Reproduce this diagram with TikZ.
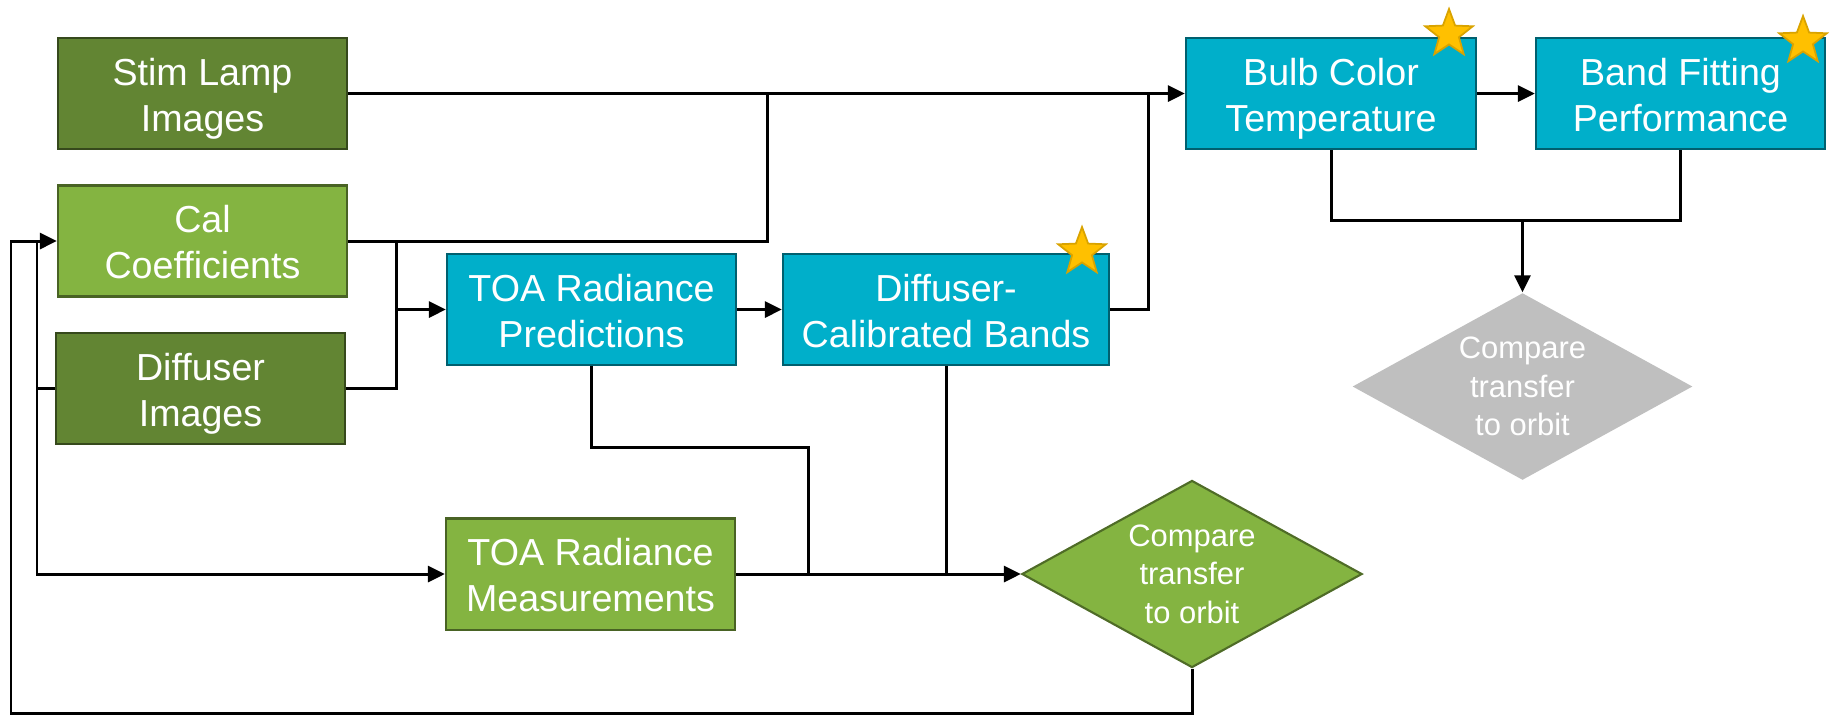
\documentclass[tikz,border=0pt]{standalone}
\usepackage{fontspec}
\setmainfont{Liberation Sans}
\usetikzlibrary{arrows.meta,shapes.geometric}

\definecolor{verdescuro}{RGB}{98,133,51}
\definecolor{verdechiaro}{RGB}{132,180,65}
\definecolor{ciano}{RGB}{0,175,202}
\definecolor{grigio}{RGB}{191,191,191}
\definecolor{oro}{RGB}{255,192,0}

\tikzset{
  blocco/.style={rectangle, fill=#1, draw=#1!55!black, line width=0.6pt,
    text=white, align=center, inner sep=0pt,
    minimum width=2.89cm, minimum height=1.11cm,
    text height=24.4pt, text depth=3pt,
    font=\fontsize{10.7}{13.1}\selectfont},
  rombo/.style={diamond, fill=#1, aspect=1.82, inner sep=0pt,
    minimum width=3.4cm, minimum height=1.87cm, text=white, align=center,
    font=\fontsize{8.8}{10.9}\selectfont},
  stella/.style={star, star points=5, star point ratio=2.4, fill=oro,
    draw=oro!85!black, line width=0.5pt, minimum size=0.5cm, inner sep=0pt},
  linea/.style={line width=0.85pt},
  freccia/.style={linea, -{Triangle[length=0.17cm,width=0.16cm]}}
}

\begin{document}
\begin{tikzpicture}[x=0.01cm,y=-0.01cm]
  \useasboundingbox (0,0) rectangle (1837,717);
  %blocchi
  \node[blocco=verdescuro] (stim) at (202.5,93.5) {Stim Lamp\\Images};
  \node[blocco=verdechiaro] (cal) at (202.5,241) {Cal\\Coefficients};
  \node[blocco=verdescuro] (diffimg) at (200.5,388.5) {Diffuser\\Images};
  \node[blocco=ciano] (pred) at (591.5,309.5) {TOA Radiance\\Predictions};
  \node[blocco=ciano, minimum width=3.26cm] (dcal) at (946,309.5) {Diffuser-\\Calibrated Bands};
  \node[blocco=verdechiaro] (meas) at (590.5,574) {TOA Radiance\\Measurements};
  \node[blocco=ciano, minimum width=2.9cm] (bulb) at (1331,93.5) {Bulb Color\\Temperature};
  \node[blocco=ciano] (band) at (1680.5,93.5) {Band Fitting\\Performance};
  \node[rombo=verdechiaro, draw=verdechiaro!60!black, line width=0.6pt] (cmpa) at (1192,574) {Compare\\transfer\\to orbit};
  \node[rombo=grigio] (cmpb) at (1522.5,386.5) {Compare\\transfer\\to orbit};
  %stelle
  \node[stella] (sa) at (1082,252) {};
  \node[stella] (sb) at (1449,34) {};
  \node[stella] (sc) at (1803,41) {};
  %punti
  \coordinate (ja) at (767,93.5);
  \coordinate (jb) at (396,309.5);
  \coordinate (jc) at (1148,93.5);
  \coordinate (jd) at (1522.5,220);
  \coordinate (je) at (808,447);
  \coordinate (jf) at (808,574);
  \coordinate (jg) at (37,241);
  \coordinate (lp) at (11,713);
  %collegamenti
  \draw[freccia] (stim) -- (bulb);
  \draw[linea] (cal.east) -| (ja);
  \draw[linea] (cal.east) -| (jb);
  \draw[linea] (diffimg.east) -| (jb);
  \draw[freccia] (jb) -- (pred.west);
  \draw[freccia] (pred) -- (dcal);
  \draw[linea] (dcal.east) -| (jc);
  \draw[freccia] (bulb) -- (band);
  \draw[linea] (bulb.south) |- (jd) -| (band.south);
  \draw[freccia] (jd) -- (cmpb.north);
  \draw[linea] (pred.south) |- (je) -- (jf);
  \draw[linea] (dcal.south) -- (dcal.south |- cmpa.west);
  \draw[freccia] (meas.east) -- (cmpa.west);
  \draw[freccia] (cmpa.south) |- (lp) |- (cal.west);
  \draw[freccia] (jg) |- (meas.west);
  \draw[linea] (diffimg.west) -- (diffimg.west -| jg);
\end{tikzpicture}
\end{document}
